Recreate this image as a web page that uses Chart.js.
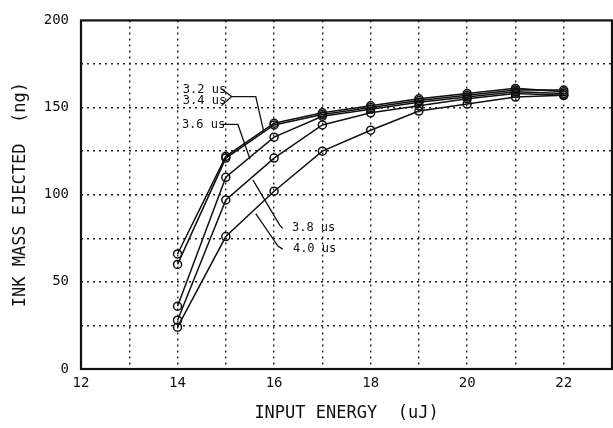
<!DOCTYPE html>
<html lang="en">
<head>
<meta charset="UTF-8">
<title>Ink mass ejected vs input energy</title>
<script src="https://cdn.jsdelivr.net/npm/chart.js"></script>
<style>
  html, body { margin: 0; padding: 0; background: #fff; overflow: hidden; }
  #wrap { width: 613px; height: 428px; overflow: hidden; }
</style>
</head>
<body>
<div id="wrap"><canvas id="myChart" width="618" height="428"></canvas></div>
<script>
// data
const energy = [14, 15, 16, 17, 18, 19, 20, 21, 22];
const pulse32 = [66, 122, 141, 147, 151, 155, 158, 161, 159];
const pulse34 = [60, 121, 140, 146, 150, 154, 157, 160, 160];
const pulse36 = [36, 110, 133, 145, 149, 153, 156, 159, 158];
const pulse38 = [28, 97, 121, 140, 147, 151, 155, 158, 157];
const pulse40 = [24, 76, 102, 125, 137, 148, 152, 156, 157];
const seriesNames = ['3.2 us', '3.4 us', '3.6 us', '3.8 us', '4.0 us'];

// callout labels + leader lines, in data units
const callouts = [
  { text: '3.2 us', at: [14.11, 160.2], path: [[14.91, 160.8], [15.12, 156.3], [14.91, 151.1]] },
  { text: '3.4 us', at: [14.11, 154.0], path: [[15.12, 156.3], [15.62, 156.3], [15.79, 135.8]] },
  { text: '3.6 us', at: [14.09, 140.3], path: [[14.92, 140.3], [15.25, 140.3], [15.50, 120.5]] },
  { text: '3.8 us', at: [16.37, 80.7], path: [[16.18, 80.7], [16.12, 82.4], [15.56, 108.5]] },
  { text: '4.0 us', at: [16.39, 68.8], path: [[16.18, 68.8], [16.08, 70.5], [15.62, 89.2]] }
];

const FONT = '"DejaVu Sans Mono", monospace';

function toPoints(vals) {
  return vals.map((v, i) => ({ x: energy[i], y: v }));
}

const allSeries = [pulse32, pulse34, pulse36, pulse38, pulse40];
const datasets = allSeries.map((vals, i) => ({
  label: seriesNames[i],
  data: toPoints(vals),
  borderColor: '#111',
  borderWidth: 1.5,
  pointRadius: 4,
  pointBorderWidth: 1.5,
  pointBackgroundColor: 'rgba(255,255,255,0)',
  pointBorderColor: '#111',
  tension: 0
}));

const frameAndNotes = {
  id: 'frameAndNotes',
  afterDatasetsDraw(chart) {
    const { ctx, chartArea: a, scales } = chart;
    const px = v => scales.x.getPixelForValue(v);
    const py = v => scales.y.getPixelForValue(v);
    ctx.save();
    ctx.strokeStyle = '#111';
    ctx.lineWidth = 2.2;
    ctx.strokeRect(a.left, a.top, a.right - a.left, a.bottom - a.top);

    ctx.lineWidth = 1.3;
    ctx.fillStyle = '#111';
    ctx.font = '12px ' + FONT;
    ctx.textBaseline = 'middle';
    ctx.textAlign = 'left';
    callouts.forEach(c => {
      ctx.fillText(c.text, px(c.at[0]), py(c.at[1]));
      ctx.beginPath();
      c.path.forEach((p, i) => {
        if (i === 0) ctx.moveTo(px(p[0]), py(p[1]));
        else ctx.lineTo(px(p[0]), py(p[1]));
      });
      ctx.stroke();
    });
    ctx.restore();
  }
};

const ctx = document.getElementById('myChart').getContext('2d');
new Chart(ctx, {
  type: 'line',
  data: { datasets: datasets },
  options: {
    responsive: false,
    animation: false,
    layout: { padding: { top: 17, right: 0, left: 0, bottom: 0 } },
    plugins: { legend: { display: false }, tooltip: { enabled: false } },
    scales: {
      x: {
        type: 'linear',
        min: 12,
        max: 23,
        afterFit(scale) { scale.height = 59; },
        border: { display: false, dash: [2, 4] },
        grid: {
          color: ctx => (ctx.tick && (ctx.tick.value === 12 || ctx.tick.value === 23)) ? 'rgba(0,0,0,0)' : '#222',
          lineWidth: 1.4,
          drawTicks: false
        },
        ticks: {
          stepSize: 1,
          color: '#111',
          padding: 6,
          maxRotation: 0,
          autoSkip: false,
          font: { family: FONT, size: 14 },
          callback: v => (v % 2 === 0 && v <= 22) ? v : ''
        },
        title: {
          display: true,
          text: 'INPUT ENERGY  (uJ)',
          color: '#111',
          font: { family: FONT, size: 17 },
          padding: { top: 8 }
        }
      },
      y: {
        min: 0,
        max: 200,
        afterFit(scale) { scale.width = 81; },
        border: { display: false, dash: [2, 4] },
        grid: {
          color: ctx => (ctx.tick && (ctx.tick.value === 0 || ctx.tick.value === 200)) ? 'rgba(0,0,0,0)' : '#222',
          lineWidth: 1.4,
          drawTicks: false
        },
        ticks: {
          stepSize: 25,
          color: '#111',
          padding: 12,
          font: { family: FONT, size: 14 },
          callback: v => v % 50 === 0 ? v : ''
        },
        title: {
          display: true,
          text: 'INK MASS EJECTED  (ng)',
          color: '#111',
          font: { family: FONT, size: 17 },
          padding: { top: 10, bottom: 0 }
        }
      }
    }
  },
  plugins: [frameAndNotes]
});
</script>
</body>
</html>
